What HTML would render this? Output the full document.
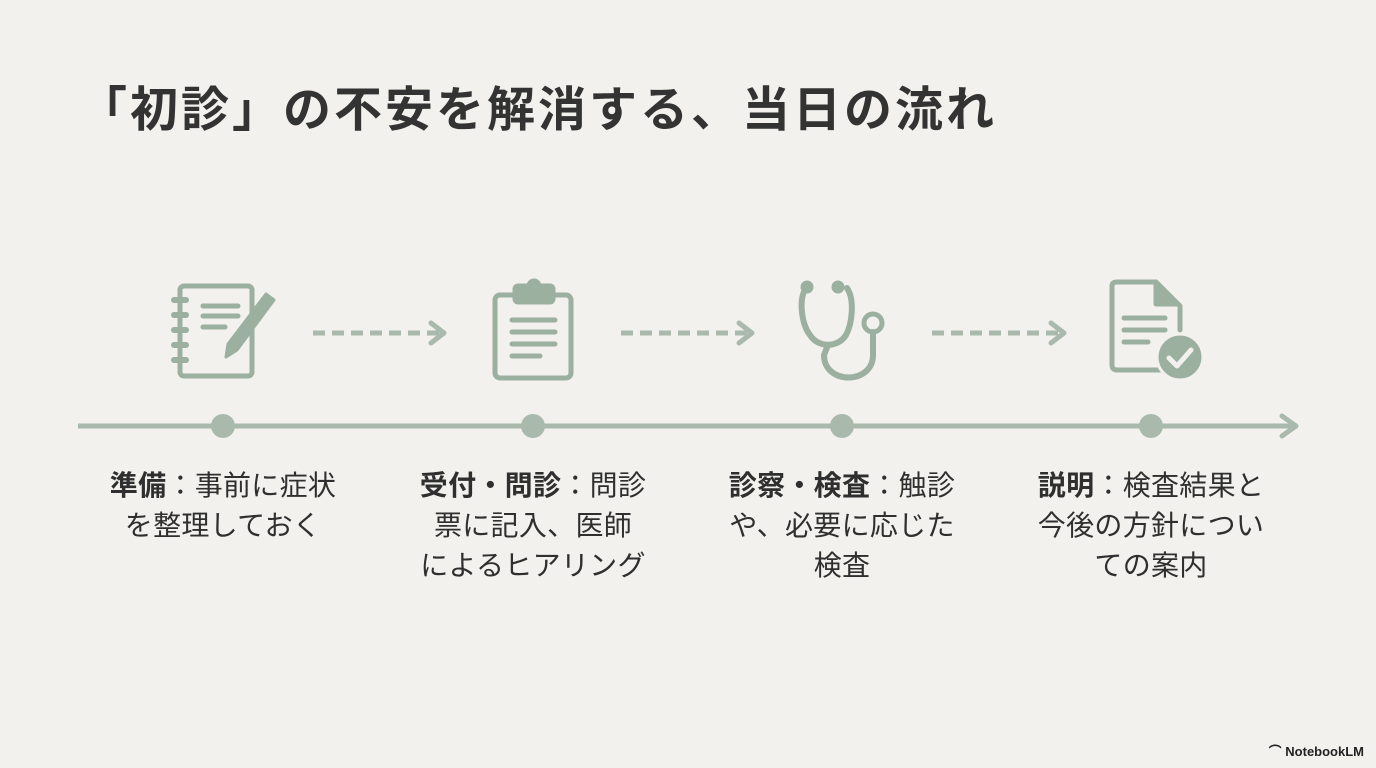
<!DOCTYPE html>
<html><head><meta charset="utf-8"><style>
body{margin:0;width:1376px;height:768px;background:#f2f1ed;overflow:hidden;position:relative;font-family:"Liberation Sans","Noto Sans CJK JP",sans-serif;color:#2f2f2f}
h1{position:absolute;left:79px;top:70px;margin:0;font-size:48px;font-weight:bold;letter-spacing:3px;color:#333;white-space:nowrap}
.l{position:absolute;top:466px;width:300px;text-align:center;font-size:28px;letter-spacing:0.3px;line-height:40px;white-space:nowrap}
.l b{font-weight:bold}
.nb{position:absolute;right:12px;bottom:8px;font-size:13px;font-weight:bold;color:#222}
</style></head><body>
<h1>「初診」の不安を解消する、当日の流れ</h1>
<svg width="1376" height="768" style="position:absolute;left:0;top:0">
<g fill="none" stroke="#a9baac" stroke-width="5">
<line x1="78" y1="426" x2="1294" y2="426"/>
<polyline points="1282,416 1296,426 1282,436" stroke-linecap="round" stroke-linejoin="round"/>
</g>
<g fill="#a9baac"><circle cx="223" cy="426" r="12"/><circle cx="533" cy="426" r="12"/><circle cx="842" cy="426" r="12"/><circle cx="1151" cy="426" r="12"/></g>
<g stroke="#a9baac" stroke-width="5" fill="none" stroke-linejoin="round" stroke-linecap="round">
<line x1="313" y1="333" x2="442" y2="333" stroke-dasharray="12,7" stroke-linecap="butt"/>
<polyline points="431,323 444,333 431,343"/>
<line x1="621" y1="333" x2="750" y2="333" stroke-dasharray="12,7" stroke-linecap="butt"/>
<polyline points="739,323 752,333 739,343"/>
<line x1="932" y1="333" x2="1062" y2="333" stroke-dasharray="12,7" stroke-linecap="butt"/>
<polyline points="1051,323 1064,333 1051,343"/>
</g>
<g fill="none" stroke="#9bb09e" stroke-width="5" stroke-linecap="round" stroke-linejoin="round">
<rect x="180" y="286" width="72" height="90" rx="4"/>
<g stroke-width="6"><line x1="174" y1="300" x2="186" y2="300"/><line x1="174" y1="315" x2="186" y2="315"/><line x1="174" y1="330" x2="186" y2="330"/><line x1="174" y1="345" x2="186" y2="345"/><line x1="174" y1="360" x2="186" y2="360"/></g>
<line x1="203" y1="306" x2="238" y2="306"/><line x1="203" y1="316" x2="238" y2="316"/><line x1="203" y1="327" x2="225" y2="327"/>
<path d="M266 294 L274 300 L237 350 L226 357 L228 344 Z" fill="#9bb09e" stroke-width="3"/>
<rect x="495" y="295" width="76" height="83" rx="5"/>
<rect x="515" y="286" width="38" height="16" rx="3" fill="#9bb09e"/>
<circle cx="534" cy="286" r="5" fill="#9bb09e"/>
<line x1="512" y1="320" x2="555" y2="320"/><line x1="512" y1="332" x2="555" y2="332"/><line x1="512" y1="344" x2="555" y2="344"/><line x1="512" y1="356" x2="540" y2="356"/>
<path d="M806 288 C798 300 802 325 810 335 C818 348 838 348 846 335 C852 324 855 300 847 288" stroke-width="6"/>
<circle cx="807" cy="287" r="4" fill="#9bb09e"/><circle cx="838" cy="287" r="4" fill="#9bb09e"/>
<path d="M828 345 L824 355 C824 385 873 385 873 355 L873 332" stroke-width="6"/>
<circle cx="873" cy="323" r="9" stroke-width="5"/>
<path d="M1166 370 L1117 370 Q1112 370 1112 365 L1112 286 Q1112 282 1117 282 L1156 282 L1180 306 L1180 330"/>
<path d="M1156 282 L1156 304 L1178 304" fill="#9bb09e"/>
<line x1="1124" y1="318" x2="1165" y2="318"/><line x1="1124" y1="330" x2="1165" y2="330"/><line x1="1124" y1="342" x2="1148" y2="342"/>
<circle cx="1180" cy="357" r="23" fill="#9bb09e" stroke="#f2f1ed" stroke-width="3"/>
<polyline points="1169,358 1177,366 1191,350" stroke="#f2f1ed" stroke-width="5"/>
</g>
</svg>
<div class="l" style="left:73px"><b>準備</b>：事前に症状<br>を整理しておく</div>
<div class="l" style="left:383px"><b>受付・問診</b>：問診<br>票に記入、医師<br>によるヒアリング</div>
<div class="l" style="left:692px"><b>診察・検査</b>：触診<br>や、必要に応じた<br>検査</div>
<div class="l" style="left:1001px"><b>説明</b>：検査結果と<br>今後の方針につい<br>ての案内</div>
<div class="nb">⌒ NotebookLM</div>
</body></html>
